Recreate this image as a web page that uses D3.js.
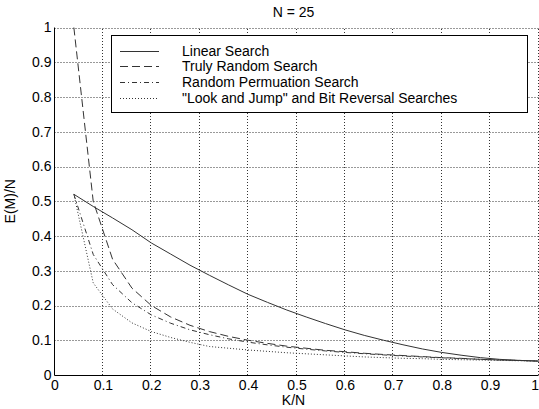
<!DOCTYPE html>
<html><head><meta charset="utf-8">
<script src="https://cdn.jsdelivr.net/npm/d3@7"></script>
<style>
html,body{margin:0;padding:0;background:#fff;}
svg{display:block;}
text{font-family:"Liberation Sans",Arial,sans-serif;fill:#000;}
</style></head>
<body><div id="chart"></div>
<script>
const title = "N = 25";
const xLabel = "K/N";
const yLabel = "E(M)/N";
const xTicks = [0,0.1,0.2,0.3,0.4,0.5,0.6,0.7,0.8,0.9,1];
const yTicks = [0,0.1,0.2,0.3,0.4,0.5,0.6,0.7,0.8,0.9,1];
const seriesNames = ["Linear Search","Truly Random Search","Random Permuation Search","\"Look and Jump\" and Bit Reversal Searches"];
const kOverN = [0.04,0.08,0.12,0.16,0.20,0.24,0.28,0.32,0.36,0.40,0.44,0.48,0.52,0.56,0.60,0.64,0.68,0.72,0.76,0.80,0.84,0.88,0.92,0.96,1.00];
const linearSearch = [0.52,0.485,0.452,0.418,0.38,0.348,0.316,0.287,0.259,0.232,0.209,0.187,0.167,0.148,0.130,0.114,0.100,0.087,0.075,0.065,0.057,0.050,0.045,0.042,0.040];
const trulyRandom = [1.0,0.5,0.333,0.25,0.2,0.167,0.143,0.125,0.111,0.1,0.091,0.083,0.077,0.071,0.067,0.0625,0.059,0.056,0.053,0.05,0.048,0.045,0.043,0.042,0.04];
const randomPermutation = [0.52,0.347,0.26,0.208,0.173,0.149,0.13,0.116,0.104,0.0945,0.0867,0.08,0.0743,0.0693,0.065,0.0612,0.0578,0.0547,0.052,0.0495,0.0473,0.0452,0.0433,0.0416,0.04];
const lookAndJump = [0.52,0.265,0.19,0.15,0.125,0.108,0.094,0.082,0.077,0.072,0.068,0.064,0.061,0.058,0.055,0.052,0.050,0.048,0.047,0.045,0.044,0.043,0.042,0.041,0.040];

const W = 539, H = 409;
const m = {left:54.5, right:0.5, top:27.5, bottom:34};
const FS = "14px";
const svg = d3.select("#chart").append("svg").attr("width",W).attr("height",H);
const x = d3.scaleLinear().domain([0,1]).range([m.left, W-m.right]);
const y = d3.scaleLinear().domain([0,1]).range([H-m.bottom, m.top]);
const y0 = y(0);

// grid
const grid = svg.append("g").attr("stroke","#333").attr("stroke-width",1).attr("stroke-dasharray","1,2");
grid.selectAll(".gx").data(xTicks.slice(1)).join("line")
  .attr("x1",d=>Math.round(x(d))-0.5).attr("x2",d=>Math.round(x(d))-0.5)
  .attr("y1",y(0)).attr("y2",y(1));
grid.selectAll(".gy").data(yTicks.slice(1)).join("line")
  .attr("y1",d=>Math.round(y(d))+0.5).attr("y2",d=>Math.round(y(d))+0.5)
  .attr("x1",x(0)).attr("x2",x(1));

// axes
const xAxis = d3.axisBottom(x).tickValues(xTicks).tickFormat(d3.format("~g")).tickSize(0).tickPadding(5);
const yAxis = d3.axisLeft(y).tickValues(yTicks).tickFormat(d3.format("~g")).tickSize(0).tickPadding(3);
const gx = svg.append("g").attr("transform",`translate(0,${Math.round(y0)+0.5})`).call(xAxis);
const gy = svg.append("g").attr("transform",`translate(${Math.round(x(0))-0.5},0)`).call(yAxis);
[gx,gy].forEach(g=>{
  g.select(".domain").remove();
  g.selectAll("text").style("font-family","'Liberation Sans',Arial,sans-serif").style("font-size",FS).attr("fill","#000");
});
gx.selectAll(".tick").filter(d=>d===1).select("text").attr("text-anchor","end").attr("x",0);
svg.append("line").attr("x1",Math.round(x(0))-0.5).attr("x2",Math.round(x(0))-0.5).attr("y1",y(1)).attr("y2",Math.round(y0)+0.5).attr("stroke","#000");
svg.append("line").attr("x1",Math.round(x(0))-0.5).attr("x2",x(1)).attr("y1",Math.round(y0)+0.5).attr("y2",Math.round(y0)+0.5).attr("stroke","#000");

// series
const series = [
  {name:seriesNames[0], vals:linearSearch, dash:null},
  {name:seriesNames[1], vals:trulyRandom, dash:"8,4"},
  {name:seriesNames[2], vals:randomPermutation, dash:"5,3,1,3"},
  {name:seriesNames[3], vals:lookAndJump, dash:"1,2"}
];
const line = d3.line().x((d,i)=>x(kOverN[i])).y(d=>y(d));
svg.append("g").selectAll("path").data(series).join("path")
  .attr("d",d=>line(d.vals)).attr("fill","none").attr("stroke","#333").attr("stroke-width",1)
  .attr("stroke-dasharray",d=>d.dash);

// legend
const lg = svg.append("g");
lg.append("rect").attr("x",111.5).attr("y",35.5).attr("width",416).attr("height",77).attr("fill","#fff").attr("stroke","#000");
const rowY = [51,66,82,98];
series.forEach((s,i)=>{
  lg.append("line").attr("x1",120).attr("x2",159).attr("y1",rowY[i]+0.5).attr("y2",rowY[i]+0.5)
    .attr("stroke","#333").attr("stroke-dasharray",s.dash);
  lg.append("text").attr("x",182).attr("y",rowY[i]+5).style("font-size",FS).text(s.name);
});

// labels
svg.append("text").attr("x",(x(0)+x(1))/2-3).attr("y",17).attr("text-anchor","middle").style("font-size",FS).text(title);
svg.append("text").attr("x",(x(0)+x(1))/2-3).attr("y",405).attr("text-anchor","middle").style("font-size",FS).text(xLabel);
svg.append("text").attr("transform",`translate(15,${(y(0)+y(1))/2}) rotate(-90)`).attr("text-anchor","middle").style("font-size",FS).text(yLabel);
</script></body></html>
